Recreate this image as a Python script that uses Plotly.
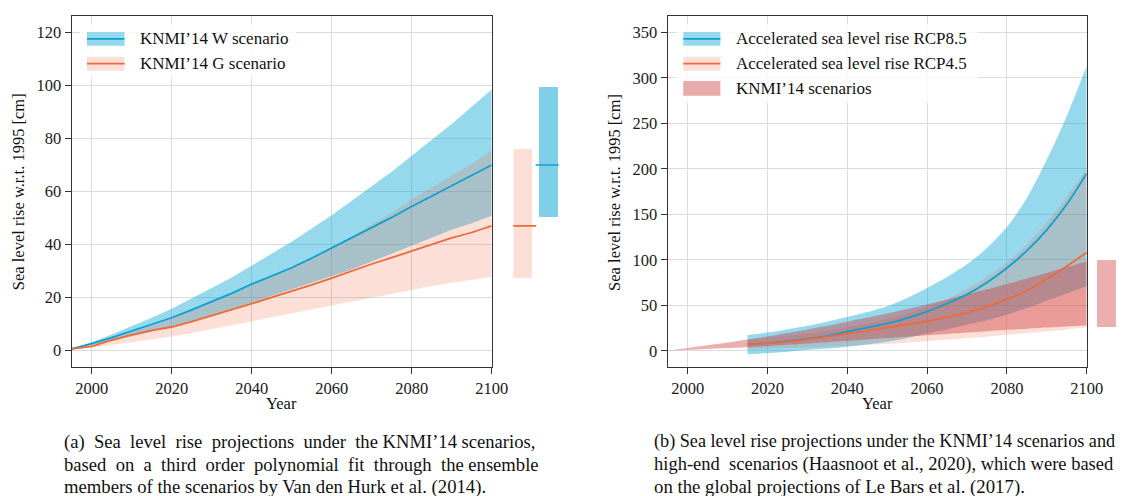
import plotly.graph_objects as go

# ---------------- data ----------------
years_a = list(range(1995, 2101, 5))
w_med = [0.5, 2.5, 4.8, 7.2, 9.8, 12.3, 15.3, 18.3, 21.5, 25.0, 28.0, 31.2, 34.8, 38.6, 42.3, 46.2, 50.2, 54.3, 58.2, 62.2, 66.0, 70.0]
w_high = [0.5, 3.0, 6.0, 9.0, 12.3, 15.7, 19.5, 23.5, 27.5, 32.0, 36.5, 41.0, 46.0, 51.0, 56.5, 62.0, 67.5, 73.5, 79.5, 85.5, 92.0, 98.5]
w_low = [0.5, 2.0, 3.5, 5.3, 7.0, 9.0, 11.0, 13.3, 15.5, 18.0, 20.5, 23.0, 25.5, 28.0, 30.5, 33.5, 36.5, 39.5, 42.5, 45.5, 48.0, 50.8]
g_med = [0.5, 1.5, 3.8, 5.8, 7.5, 8.8, 10.8, 13.0, 15.3, 17.6, 20.0, 22.3, 24.7, 27.3, 30.0, 32.6, 35.0, 37.5, 40.0, 42.5, 44.5, 47.0]
g_high = [0.5, 2.3, 4.5, 6.8, 9.3, 12.0, 15.0, 18.0, 21.0, 24.5, 28.0, 31.5, 35.0, 39.0, 43.0, 47.5, 52.0, 57.0, 61.5, 66.0, 70.5, 75.5]
g_low = [0.5, 1.0, 2.0, 3.0, 4.0, 5.2, 6.5, 8.0, 9.5, 11.0, 12.5, 14.0, 15.5, 17.0, 18.5, 20.0, 21.5, 23.0, 24.3, 25.5, 26.6, 27.7]

# 2100 ranges (low, median, high) shown as side bars
w_2100 = [50.5, 70.0, 99.5]
g_2100 = [27.5, 47.0, 76.0]

# panel (b)
years_b = list(range(2015, 2101, 5))
rcp85_med = [7, 8.5, 10.5, 13, 16.5, 21, 25.5, 30, 36, 43, 52, 62, 75, 91, 110, 133, 161, 195]
rcp85_high = [17, 20, 23.5, 27.5, 32, 37, 42.5, 49, 58, 69, 81, 95, 113, 136, 168, 210, 258, 313]
rcp85_low = [-4, -2.5, -1, 1, 2.5, 4.5, 7, 10, 14, 19, 23.5, 28.5, 33.5, 40, 47, 55, 63, 71]
rcp45_med = [7, 8.5, 10, 12.5, 15.5, 19, 22, 25.5, 29, 32.5, 37, 42, 48.5, 56.5, 66, 79, 93, 108]
rcp45_high = [12, 14, 16.5, 19, 22, 26, 30, 35, 41, 48, 57, 68, 81, 97, 117, 141, 169, 200]
rcp45_low = [2, 2.5, 3, 3.5, 4.5, 5.5, 6.5, 7.5, 9, 10.5, 12, 14, 15.5, 17.5, 19.5, 21.5, 23.5, 25.5]
knmi_low = [0.0] + g_low[1:]
knmi_high = [0.0] + w_high[1:]
knmi_2100 = [26.5, 99.5]

xticks = [2000, 2020, 2040, 2060, 2080, 2100]
yticks_a = [0, 20, 40, 60, 80, 100, 120]
yticks_b = [0, 50, 100, 150, 200, 250, 300, 350]

legend_a = ["KNMI\u201914 W scenario", "KNMI\u201914 G scenario"]
legend_b = ["Accelerated sea level rise RCP8.5", "Accelerated sea level rise RCP4.5", "KNMI\u201914 scenarios"]
ytitle = "Sea level rise w.r.t. 1995 [cm]"
xtitle = "Year"
cap_a = ["(a) Sea level rise projections under the KNMI\u201914 scenarios,",
         "based on a third order polynomial fit through the ensemble",
         "members of the scenarios by Van den Hurk et al. (2014)."]
cap_b = ["(b) Sea level rise projections under the KNMI\u201914 scenarios and",
         "high-end scenarios (Haasnoot et al., 2020), which were based",
         "on the global projections of Le Bars et al. (2017)."]

# ---------------- style ----------------
WE, H = 1117, 496          # drawable page width observed in the browser
FONT = "Liberation Serif"
blue_line = "#0f9fd0"
orange_line = "#ee6a3b"
blue_fill = "rgba(0,160,210,0.41)"
orange_fill = "rgba(240,100,60,0.2)"
pink_fill = "rgba(205,55,55,0.4)"
blue_bar = "rgba(0,160,210,0.5)"


def PX(x):
    return x / WE


def PY(y):
    return 1 - y / H


fig = go.Figure()


def band(x, lo, hi, color, xa, ya, shape="linear"):
    fig.add_trace(go.Scatter(x=x, y=lo, mode="lines", line=dict(width=0, shape=shape, smoothing=0.8),
                             hoverinfo="skip", showlegend=False, xaxis=xa, yaxis=ya))
    fig.add_trace(go.Scatter(x=x, y=hi, mode="lines", line=dict(width=0, shape=shape, smoothing=0.8),
                             fill="tonexty", fillcolor=color, hoverinfo="skip", showlegend=False,
                             xaxis=xa, yaxis=ya))


def line(x, y, color, xa, ya, w=1.8, shape="linear"):
    fig.add_trace(go.Scatter(x=x, y=y, mode="lines", line=dict(color=color, width=w, shape=shape, smoothing=0.8),
                             showlegend=False, xaxis=xa, yaxis=ya))


# panel (a)
band(years_a, w_low, w_high, blue_fill, "x", "y")
band(years_a, g_low, g_high, orange_fill, "x", "y")
line(years_a, w_med, blue_line, "x", "y")
line(years_a, g_med, orange_line, "x", "y")

fig.add_trace(go.Bar(x=[0, 1], y=[g_2100[2] - g_2100[0], w_2100[2] - w_2100[0]],
                     base=[g_2100[0], w_2100[0]], width=0.746,
                     marker=dict(color=[orange_fill, blue_bar], line=dict(width=0)),
                     showlegend=False, xaxis="x3", yaxis="y3"))
fig.add_trace(go.Scatter(x=[0], y=[g_2100[1]], mode="markers",
                         marker=dict(symbol="line-ew", size=19, line=dict(color=orange_line, width=1.6)),
                         showlegend=False, xaxis="x3", yaxis="y3"))
fig.add_trace(go.Scatter(x=[1], y=[w_2100[1]], mode="markers",
                         marker=dict(symbol="line-ew", size=19, line=dict(color=blue_line, width=1.6)),
                         showlegend=False, xaxis="x3", yaxis="y3"))

# panel (b)
band(years_b, rcp85_low, rcp85_high, blue_fill, "x2", "y2", "spline")
band(years_b, rcp45_low, rcp45_high, orange_fill, "x2", "y2", "spline")
band(years_a, knmi_low, knmi_high, pink_fill, "x2", "y2", "spline")
line(years_b, rcp85_med, blue_line, "x2", "y2", shape="spline")
line(years_b, rcp45_med, orange_line, "x2", "y2", shape="spline")

fig.add_trace(go.Bar(x=[0], y=[knmi_2100[1] - knmi_2100[0]], base=[knmi_2100[0]], width=1,
                     marker=dict(color=pink_fill, line=dict(width=0)),
                     showlegend=False, xaxis="x4", yaxis="y4"))

# ---------------- axes ----------------
ydom = [PY(366.7), PY(16)]
yr_a = [-6.2, 126.3]
yr_b = [-17.5, 368]
tickfont = dict(family=FONT, size=16.5, color="#1a1a1a")
common = dict(showline=True, linecolor="#333", linewidth=1.3, mirror=True, ticks="outside",
              ticklen=6, tickwidth=1.2, tickcolor="#333", showgrid=True, gridcolor="#dcdcdc",
              gridwidth=1, zeroline=False, tickfont=tickfont)

fig.update_layout(
    autosize=True, margin=dict(l=0, r=0, t=0, b=0, pad=0),
    paper_bgcolor="white", plot_bgcolor="white", showlegend=False,
    bargap=0,
    xaxis=dict(domain=[PX(71.7), PX(491.7)], range=[1995, 2100], tickvals=xticks, anchor="y", **common),
    yaxis=dict(domain=ydom, range=yr_a, tickvals=yticks_a, anchor="x", **common),
    xaxis2=dict(domain=[PX(667.8), PX(1086.7)], range=[1995, 2100], tickvals=xticks, anchor="y2", **common),
    yaxis2=dict(domain=ydom, range=yr_b, tickvals=yticks_b, anchor="x2", **common),
    xaxis3=dict(domain=[PX(513.3), PX(558.7)], range=[-0.373, 1.373], visible=False, anchor="y3"),
    yaxis3=dict(domain=ydom, range=yr_a, visible=False, anchor="x3"),
    xaxis4=dict(domain=[PX(1097), PX(1116)], range=[-0.5, 0.5], visible=False, anchor="y4"),
    yaxis4=dict(domain=ydom, range=yr_b, visible=False, anchor="x4"),
)

# ---------------- legends (drawn manually) ----------------
shapes = []
annotations = []
LFONT = dict(family=FONT, size=17, color="#111")


def legend_entry(x0, x1, y0, y1, fill, linecol, text, tx):
    shapes.append(dict(type="rect", xref="paper", yref="paper", x0=PX(x0), x1=PX(x1),
                       y0=PY(y1), y1=PY(y0), fillcolor=fill, line=dict(width=0), layer="above"))
    if linecol:
        ym = (y0 + y1) / 2
        shapes.append(dict(type="line", xref="paper", yref="paper", x0=PX(x0), x1=PX(x1),
                           y0=PY(ym), y1=PY(ym), line=dict(color=linecol, width=1.8), layer="above"))
    annotations.append(dict(text=text, xref="paper", yref="paper", x=PX(tx), y=PY((y0 + y1) / 2),
                            xanchor="left", yanchor="middle", showarrow=False, font=LFONT))


shapes.append(dict(type="rect", xref="paper", yref="paper", x0=PX(80), x1=PX(296), y0=PY(78), y1=PY(24),
                   fillcolor="rgba(255,255,255,0.8)", line=dict(width=0), layer="above"))
shapes.append(dict(type="rect", xref="paper", yref="paper", x0=PX(676), x1=PX(978), y0=PY(103), y1=PY(24),
                   fillcolor="rgba(255,255,255,0.8)", line=dict(width=0), layer="above"))

legend_entry(87, 124.5, 32, 45.7, "rgb(151,217,236)", blue_line, legend_a[0], 138)
legend_entry(87, 124.5, 56.7, 70.7, "rgb(252,224,216)", orange_line, legend_a[1], 138)
legend_entry(683.3, 720.4, 32, 45.7, "rgb(151,217,236)", blue_line, legend_b[0], 733.7)
legend_entry(683.3, 720.4, 56.7, 70.7, "rgb(252,224,216)", orange_line, legend_b[1], 733.7)
legend_entry(683.3, 720.4, 81, 95.7, "rgb(232,170,170)", None, legend_b[2], 733.7)

# axis titles
TFONT = dict(family=FONT, size=16.5, color="#111")
for cx in (281.7, 877.2):
    annotations.append(dict(text=xtitle, xref="paper", yref="paper", x=PX(cx), y=PY(403),
                            xanchor="center", yanchor="middle", showarrow=False, font=TFONT))
for cx in (18.2, 613.9):
    annotations.append(dict(text=ytitle, xref="paper", yref="paper", x=PX(cx), y=PY(192),
                            xanchor="center", yanchor="middle", showarrow=False, textangle=-90, font=TFONT))


# captions (first two lines of each are justified by widening word gaps)
def widen(text, extra):
    words = text.split(" ")
    gaps = len(words) - 1
    out = words[0]
    for i, wd in enumerate(words[1:]):
        n = extra // gaps + (1 if i < extra % gaps else 0)
        out += " " + "\u00a0" * n + wd
    return out


extra_a = [6, 8, 0]
size_a = [18.6, 18.6, 18.7]
extra_b = [0, 1, 0]
size_b = [18.2, 18.5, 18.8]
for i, (ta, tb) in enumerate(zip(cap_a, cap_b)):
    yy = 441.5 + i * 22.7
    annotations.append(dict(text=widen(ta, extra_a[i]), xref="paper", yref="paper", x=PX(62), y=PY(yy),
                            xanchor="left", yanchor="middle", showarrow=False,
                            font=dict(family=FONT, size=size_a[i], color="#111")))
    annotations.append(dict(text=widen(tb, extra_b[i]), xref="paper", yref="paper", x=PX(652), y=PY(yy),
                            xanchor="left", yanchor="middle", showarrow=False,
                            font=dict(family=FONT, size=size_b[i], color="#111")))

fig.update_layout(shapes=shapes, annotations=annotations)
fig.write_html("out.html", default_width="100vw", default_height="100vh",
               post_script="document.documentElement.style.overflow='hidden';"
                           "document.body.style.overflow='hidden';document.body.style.margin='0';"
                           "Plotly.Plots.resize(document.getElementById('{plot_id}'));")
